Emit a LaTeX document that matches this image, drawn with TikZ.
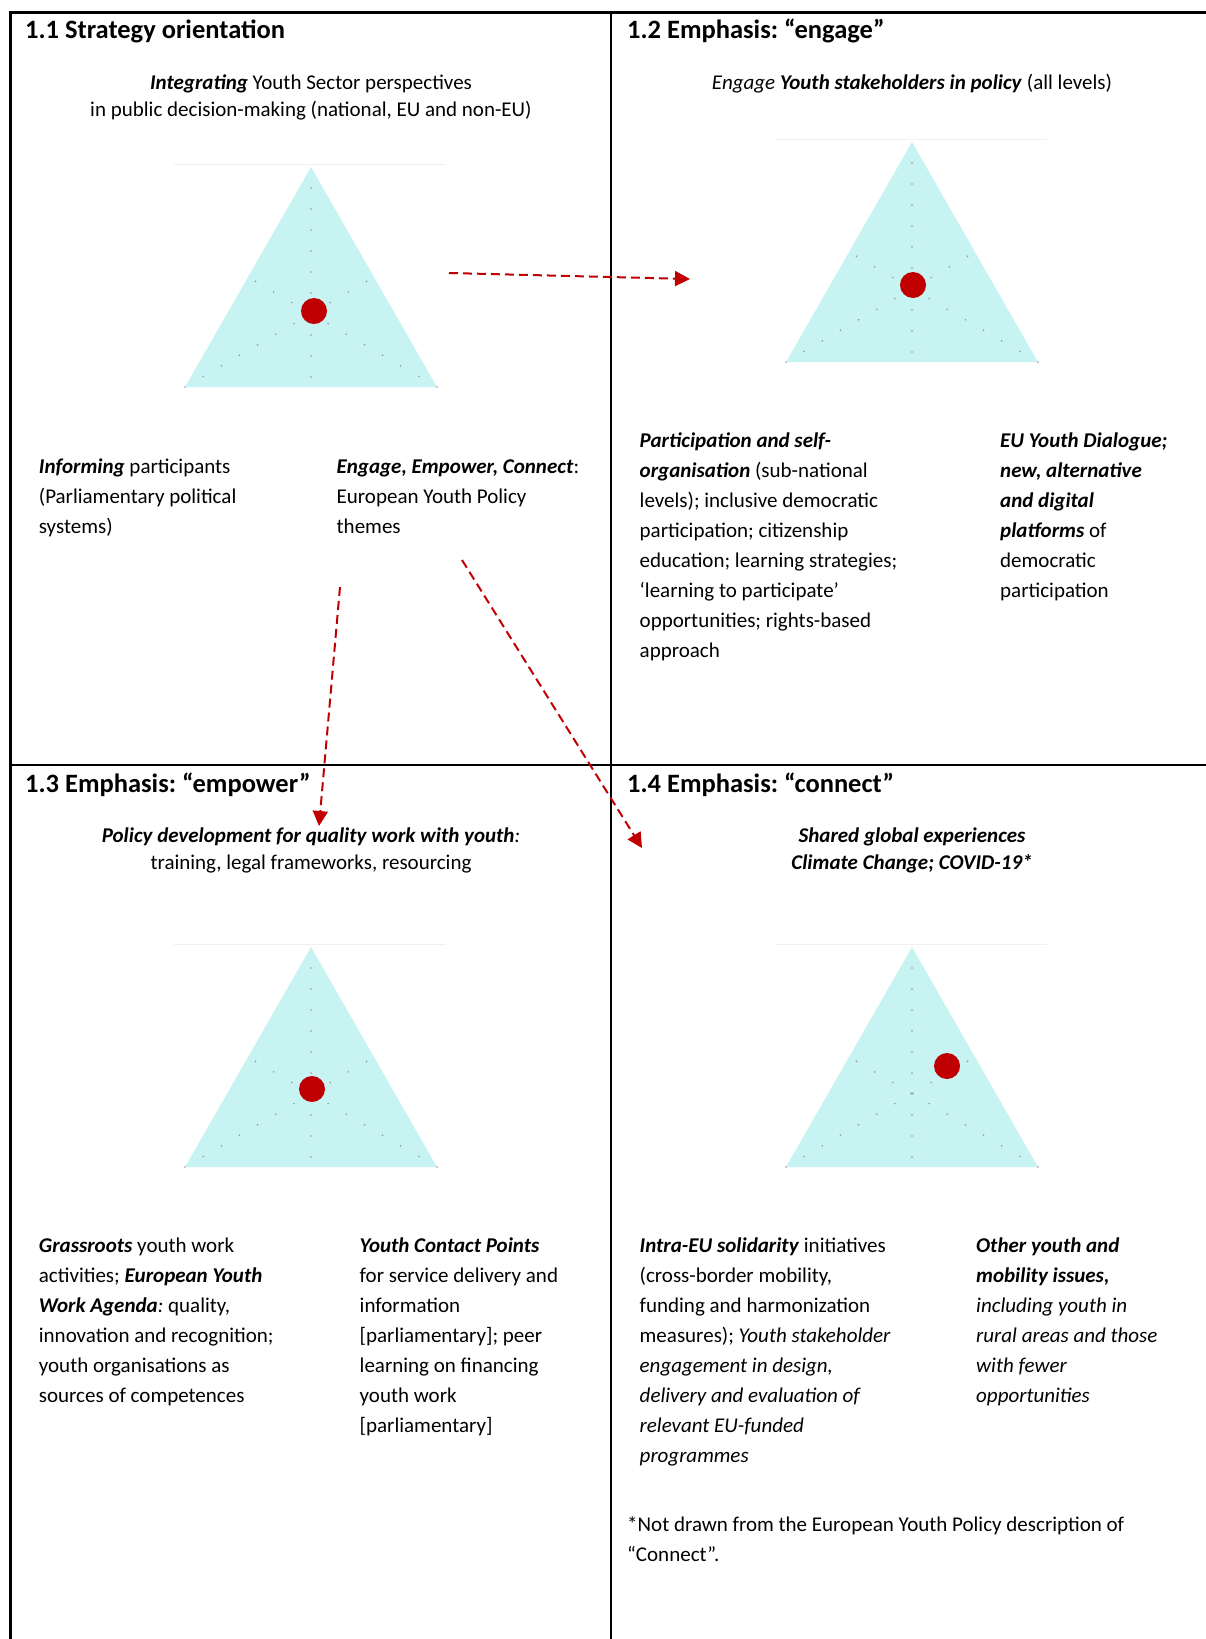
\documentclass[tikz,border=0pt]{standalone}
\usepackage{fontspec}
\setmainfont{Carlito}
\usetikzlibrary{arrows.meta}
\definecolor{dotred}{RGB}{192,0,0}
\definecolor{triband}{RGB}{200,243,243}
\newcommand{\bfit}[1]{\textbf{\textit{#1}}}
\frenchspacing
\begin{document}
\begin{tikzpicture}[x=1pt, y=-1pt,
  head/.style={anchor=base west, inner sep=0, font=\fontsize{26.5}{32}\selectfont\bfseries},
  lede/.style={anchor=base, inner sep=0, align=center, font=\fontsize{21}{27}\selectfont},
  body/.style={anchor=base west, inner sep=0, align=left, font=\fontsize{21}{30}\selectfont},
  grid/.style={line width=2.2pt},
  median/.style={black!40, line width=1.8pt, line cap=round, dash pattern=on 0pt off 21pt},
  link/.style={dotred, line width=2pt, dash pattern=on 9pt off 5pt, -{Triangle[length=15pt,width=15pt]}}]
\useasboundingbox (0,0) rectangle (1206,1639);

% Frame of the four panels
\draw[grid] (1206,12.5) -- (10.5,12.5) -- (10.5,1639);
\draw[grid] (611,12.5) -- (611,1639);
\draw[grid] (10.5,765) -- (1206,765);

% Triangles with their red markers
\foreach \ax/\ay/\mx/\my in {311/167/314/311, 912/142/913/285, 311/947/312/1089, 912/947/947/1066} {
  \draw[black!6, line width=1pt] (\ax-137,\ay-3) -- (\ax+135,\ay-3);
  \fill[triband] (\ax,\ay) -- (\ax+126,\ay+220) -- (\ax-126,\ay+220) -- cycle;
  \draw[median] (\ax,\ay+21) -- (\ax,\ay+220);
  \draw[median] (\ax-126,\ay+220) -- (\ax+63,\ay+110);
  \draw[median] (\ax+126,\ay+220) -- (\ax-63,\ay+110);
  \fill[dotred] (\mx,\my) circle (13);
}

% 1.1 (multi-line nodes sit on the baseline of their last line)
\node[head] (t11) at (25,38) {1.1 Strategy orientation};
\node[lede] (s11) at (311,116) {\bfit{Integrating} Youth Sector perspectives\\in public decision-making (national, EU and non-EU)};
\node[body] (a11) at (38.7,533) {\bfit{Informing} participants\\(Parliamentary political\\systems)};
\node[body] (b11) at (336.5,533) {\bfit{Engage, Empower, Connect}:\\European Youth Policy\\themes};

% 1.2
\node[head] (t12) at (627,38) {1.2 Emphasis: “engage”};
\node[lede] (s12) at (912,89) {\textit{Engage} \bfit{Youth stakeholders in policy} (all levels)};
\node[body] (a12) at (639.5,657) {\bfit{Participation and self-}\\\bfit{organisation} (sub-national\\levels); inclusive democratic\\participation; citizenship\\education; learning strategies;\\‘learning to participate’\\opportunities; rights-based\\approach};
\node[body] (b12) at (1000,597) {\bfit{EU Youth Dialogue;}\\\bfit{new, alternative}\\\bfit{and digital}\\\bfit{platforms} of\\democratic\\participation};

% 1.3
\node[head] (t13) at (25,792) {1.3 Emphasis: “empower”};
\node[lede] (s13) at (311,869) {\bfit{Policy development for quality work with youth}{\itshape :}\\training, legal frameworks, resourcing};
\node[body] (a13) at (38.7,1402) {\bfit{Grassroots} youth work\\activities; \bfit{European Youth}\\\bfit{Work Agenda}{\itshape :} quality,\\innovation and recognition;\\youth organisations as\\sources of competences};
\node[body] (b13) at (359.5,1432) {\bfit{Youth Contact Points}\\for service delivery and\\information\\{[parliamentary]}; peer\\learning on financing\\youth work\\{[parliamentary]}};

% 1.4
\node[head] (t14) at (627,792) {1.4 Emphasis: “connect”};
\node[lede] (s14) at (912,869) {\bfit{Shared global experiences}\\\bfit{Climate Change; COVID-19*}};
\node[body] (a14) at (639.5,1462) {\bfit{Intra-EU solidarity} initiatives\\(cross-border mobility,\\funding and harmonization\\measures); \textit{Youth stakeholder}\\\textit{engagement in design,}\\\textit{delivery and evaluation of}\\\textit{relevant EU-funded}\\\textit{programmes}};
\node[body] (b14) at (976,1402) {\bfit{Other youth and}\\\bfit{mobility issues,}\\\textit{including youth in}\\\textit{rural areas and those}\\\textit{with fewer}\\\textit{opportunities}};
\node[body, font=\fontsize{21}{29.3}\selectfont] (n14) at (627,1561) {*Not drawn from the European Youth Policy description of\\“Connect”.};

% Dashed links between panels
\coordinate (engageFrom) at (449,273);
\coordinate (engageTo) at (690,279);
\coordinate (empowerFrom) at (340,587);
\coordinate (empowerTo) at (319,826);
\coordinate (connectFrom) at (462,560);
\coordinate (connectTo) at (642,848);
\draw[link] (engageFrom) -- (engageTo);
\draw[link] (empowerFrom) -- (empowerTo);
\draw[link] (connectFrom) -- (connectTo);

\end{tikzpicture}
\end{document}
